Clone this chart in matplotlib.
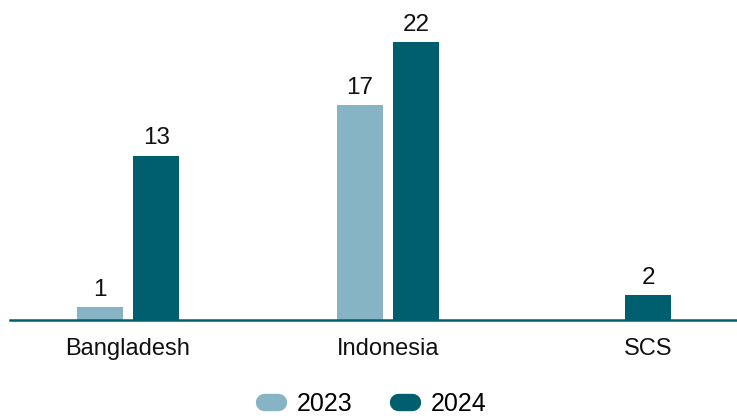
import numpy as np
import matplotlib.pyplot as plt
from matplotlib.lines import Line2D

plt.rcParams['font.family'] = ['Liberation Sans', 'DejaVu Sans']

categories = ['Bangladesh', 'Indonesia', 'SCS']
years = ['2023', '2024']
vals_2023 = [1, 17, None]
vals_2024 = [13, 22, 2]
colors = ['#87B4C5', '#005F6E']

fig = plt.figure(figsize=(7.37, 4.18), dpi=100)
ax = fig.add_axes([10 / 737, 1 - 320 / 418, 727 / 737, 320 / 418])

x = np.arange(len(categories))
width = 0.177
offset = 0.108

for i, (a, b) in enumerate(zip(vals_2023, vals_2024)):
    pairs = [(a, colors[0]), (b, colors[1])]
    present = [(v, c) for v, c in pairs if v is not None]
    # a group with one year only gets a single centred bar
    if len(present) == 1:
        positions = [x[i]]
    else:
        positions = [x[i] - offset, x[i] + offset]
    for pos, (v, c) in zip(positions, present):
        ax.bar(pos, v, width=width, color=c, zorder=2)
        ax.annotate(str(v), (pos, v), xytext=(0, 8), textcoords='offset points',
                    ha='center', va='baseline', fontsize=17.5, color='#111111')

ax.set_xlim(-0.454, 2.342)
ax.set_ylim(0, 25.3)
ax.set_xticks(x)
ax.set_xticklabels(categories, fontsize=17, color='#111111')
ax.tick_params(axis='x', length=0, pad=13)
ax.set_yticks([])
for side in ['top', 'right', 'left']:
    ax.spines[side].set_visible(False)
ax.spines['bottom'].set_color(colors[1])
ax.spines['bottom'].set_linewidth(1.8)
ax.spines['bottom'].set_zorder(3)

handles = [Line2D([0], [0], color=c, lw=12.5, solid_capstyle='round') for c in colors]
fig.legend(handles, years, loc='center', bbox_to_anchor=(0.509, 1 - 404 / 418),
           ncol=2, frameon=False, fontsize=18, handlelength=0.58,
           handletextpad=0.75, columnspacing=1.8)

fig.savefig('out.png', dpi=100)
